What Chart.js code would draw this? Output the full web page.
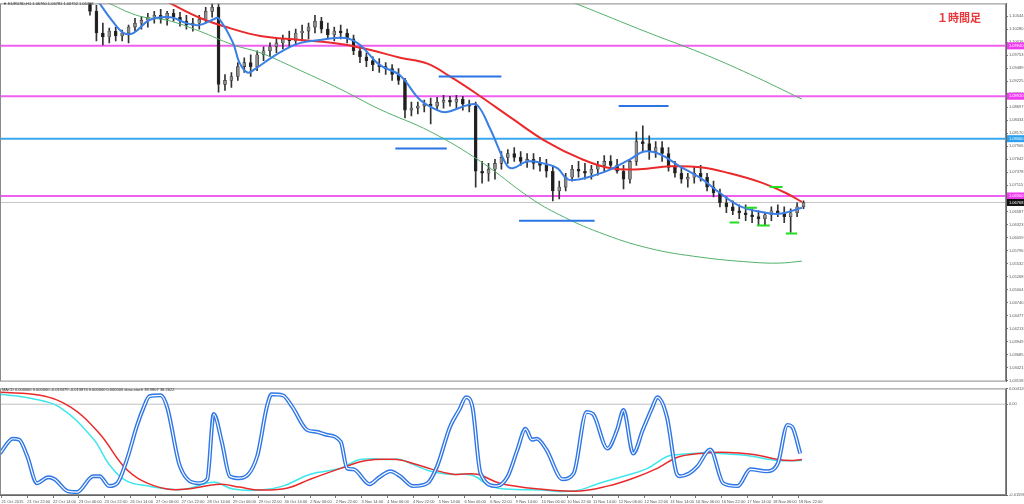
<!DOCTYPE html>
<html>
<head>
<meta charset="utf-8">
<script src="https://cdn.jsdelivr.net/npm/chart.js@4.4.1/dist/chart.umd.min.js"></script>
<style>
body{margin:0;background:#fff;width:1024px;height:504px;overflow:hidden;position:relative;font-family:"Liberation Sans",Arial,sans-serif}
canvas{position:absolute;left:0}
#main{top:0}
#sub{top:385px}
.hdr{position:absolute;white-space:nowrap;color:#333;font-size:4px;line-height:5px}
#tf{position:absolute;left:937px;top:9px;color:#e8383d;font:bold 11px "Noto Sans CJK JP",sans-serif;letter-spacing:0px}
</style>
</head>
<body>
<canvas id="main" width="1024" height="385"></canvas>
<canvas id="sub" width="1024" height="119"></canvas>
<div class="hdr" style="left:3px;top:1px">▼ EURUSD,H1 1.06760 1.06781 1.06752 1.06768</div>
<div class="hdr" style="left:2px;top:387px">MACD 0.000000 0.000000 -0.013479 -0.013874 0.000000 0.000000 slow-stoch 38.9807 38.2622</div>
<div id="tf">１時間足</div>
<script>
Chart.defaults.font.family = "Liberation Sans";

// ---- price data (H1 EURUSD, one candle every 4 bars) ----
const candleStart = 56, candleStep = 4;
const candleOpen = [
  1.1088,1.1064,1.1020,1.1012,1.1024,1.1014,1.1020,1.1032,1.1040,1.1046,
  1.1052,1.1056,1.1048,1.1060,1.1052,1.1044,1.1036,1.1040,1.1048,1.1064,
  1.1072,1.0916,1.0924,1.0932,1.0952,1.0960,1.0952,1.0976,1.0984,1.0992,
  1.1000,1.1008,1.1004,1.1020,1.1024,1.1032,1.1044,1.1028,1.1016,1.1024,
  1.1020,1.1008,1.0984,1.0972,1.0964,1.0956,1.0952,1.0948,1.0936,1.0924,
  1.0864,1.0868,1.0872,1.0876,1.0872,1.0880,1.0884,1.0880,1.0886,1.0876,
  1.0872,1.0740,1.0736,1.0744,1.0756,1.0768,1.0776,1.0768,1.0760,1.0764,
  1.0756,1.0752,1.0740,1.0700,1.0708,1.0728,1.0744,1.0740,1.0736,1.0744,
  1.0752,1.0760,1.0752,1.0740,1.0724,1.0760,1.0800,1.0796,1.0780,1.0788,
  1.0776,1.0748,1.0736,1.0724,1.0728,1.0736,1.0728,1.0708,1.0696,1.0676,
  1.0668,1.0660,1.0656,1.0652,1.0648,1.0644,1.0652,1.0660,1.0656,1.0648,
  1.0656,1.0668];
const candleHigh = [
  1.1096,1.1076,1.1040,1.1030,1.1032,1.1026,1.1036,1.1050,1.1054,1.1060,
  1.1064,1.1068,1.1064,1.1068,1.1062,1.1056,1.1050,1.1056,1.1072,1.1092,
  1.1080,1.0936,1.0940,1.0960,1.0970,1.0976,1.0984,1.0992,1.1000,1.1008,
  1.1016,1.1024,1.1028,1.1036,1.1040,1.1056,1.1052,1.1040,1.1032,1.1036,
  1.1028,1.1016,1.0992,1.0980,1.0972,1.0968,1.0960,1.0956,1.0948,1.0928,
  1.0880,1.0880,1.0884,1.0888,1.0890,1.0894,1.0892,1.0894,1.0892,1.0884,
  1.0880,1.0760,1.0756,1.0764,1.0780,1.0784,1.0788,1.0780,1.0776,1.0776,
  1.0768,1.0764,1.0752,1.0720,1.0736,1.0752,1.0760,1.0756,1.0752,1.0760,
  1.0772,1.0772,1.0764,1.0752,1.0764,1.0820,1.0832,1.0812,1.0800,1.0800,
  1.0788,1.0760,1.0748,1.0736,1.0748,1.0752,1.0736,1.0720,1.0704,1.0688,
  1.0680,1.0672,1.0672,1.0664,1.0660,1.0656,1.0668,1.0672,1.0668,1.0664,
  1.0676,1.0680];
const candleLow = [
  1.1056,1.1004,1.0996,1.1000,1.1004,1.1004,1.1000,1.1024,1.1028,1.1032,
  1.1040,1.1040,1.1036,1.1044,1.1034,1.1028,1.1024,1.1028,1.1040,1.1052,
  1.0900,1.0904,1.0910,1.0924,1.0940,1.0932,1.0944,1.0964,1.0972,1.0980,
  1.0988,1.0992,1.0996,1.1004,1.1008,1.1020,1.1020,1.1008,1.1004,1.1008,
  1.1000,1.0976,1.0960,1.0952,1.0944,1.0940,1.0936,1.0924,1.0916,1.0848,
  1.0852,1.0856,1.0860,1.0836,1.0864,1.0868,1.0872,1.0868,1.0864,1.0860,
  1.0708,1.0716,1.0720,1.0724,1.0744,1.0756,1.0760,1.0752,1.0748,1.0744,
  1.0740,1.0728,1.0680,1.0684,1.0700,1.0720,1.0728,1.0724,1.0724,1.0732,
  1.0740,1.0744,1.0736,1.0704,1.0716,1.0752,1.0780,1.0764,1.0768,1.0760,
  1.0740,1.0728,1.0716,1.0708,1.0716,1.0720,1.0700,1.0688,1.0668,1.0656,
  1.0652,1.0644,1.0640,1.0636,1.0632,1.0632,1.0640,1.0648,1.0636,1.0616,
  1.0648,1.0664];
const candleClose = [
  1.1064,1.1020,1.1012,1.1024,1.1014,1.1020,1.1032,1.1040,1.1046,1.1052,
  1.1056,1.1048,1.1060,1.1052,1.1044,1.1036,1.1040,1.1048,1.1064,1.1072,
  1.0916,1.0924,1.0932,1.0952,1.0960,1.0952,1.0976,1.0984,1.0992,1.1000,
  1.1008,1.1004,1.1020,1.1024,1.1032,1.1044,1.1028,1.1016,1.1024,1.1020,
  1.1008,1.0984,1.0972,1.0964,1.0956,1.0952,1.0948,1.0936,1.0924,1.0864,
  1.0868,1.0872,1.0876,1.0872,1.0880,1.0884,1.0880,1.0886,1.0876,1.0872,
  1.0740,1.0736,1.0744,1.0756,1.0768,1.0776,1.0768,1.0760,1.0764,1.0756,
  1.0752,1.0740,1.0700,1.0708,1.0728,1.0744,1.0740,1.0736,1.0744,1.0752,
  1.0760,1.0752,1.0740,1.0724,1.0760,1.0800,1.0796,1.0780,1.0788,1.0776,
  1.0748,1.0736,1.0724,1.0728,1.0736,1.0728,1.0708,1.0696,1.0676,1.0668,
  1.0660,1.0656,1.0652,1.0648,1.0644,1.0652,1.0660,1.0656,1.0648,1.0656,
  1.0668,1.06768];

// moving averages (bar index / price)
const redMaBar   = [87,106,125,143,162,187,212,230,249,266,280,297,319,340,361,380,398,417,436,454,473,489,499];
const redMaPrice = [1.1110,1.1080,1.1050,1.1030,1.1014,1.1006,1.0998,1.0986,1.0970,1.0958,1.0932,1.0896,1.0846,1.0800,1.0766,1.0746,1.0744,1.0750,1.0748,1.0736,1.0718,1.0696,1.0678];
const blueMaBar   = [59,62,70,77,83,93,106,116,124,133,136,145,149,154,159,168,177,187,199,215,224,236,249,261,272,278,291,297,305,315,319,328,338,347,353,361,370,380,392,401,411,423,436,448,460,473,485,499];
const blueMaPrice = [1.1096,1.1080,1.1044,1.1020,1.1020,1.1046,1.1052,1.1040,1.1036,1.1048,1.1050,1.1000,1.0960,1.0940,1.0948,1.0968,1.0986,1.1000,1.1006,1.1010,1.0996,1.0956,1.0934,1.0886,1.0864,1.0860,1.0874,1.0874,1.0826,1.0754,1.0746,1.0760,1.0756,1.0746,1.0724,1.0724,1.0732,1.0744,1.0764,1.0780,1.0774,1.0750,1.0726,1.0696,1.0670,1.0658,1.0654,1.0666];
const greenMaBar   = [59,68,87,104,124,145,162,187,212,236,268,299,330,348,373,404,436,467,485,499];
const greenMaPrice = [1.1096,1.1080,1.1054,1.1046,1.1024,1.0996,1.0980,1.0944,1.0906,1.0866,1.0820,1.0760,1.0686,1.0652,1.0616,1.0584,1.0566,1.0556,1.0554,1.0558];
const slowMaBar   = [348,358,404,436,467,499];
const slowMaPrice = [1.1092,1.1080,1.1020,1.0980,1.0936,1.0886];

// horizontal lines and short levels
const magentaLevels = [1.0994, 1.0892, 1.0690];
const cyanLevel = 1.0806;
const bidPrice = 1.06768;
const blueSegFrom  = [273, 246, 385, 323];
const blueSegTo    = [312, 278, 416, 370];
const blueSegPrice = [1.0932, 1.0786, 1.0872, 1.0640];
const greenDashFrom  = [479, 464, 454, 471, 489];
const greenDashTo    = [487, 471, 460, 479, 496];
const greenDashPrice = [1.0708, 1.0666, 1.0636, 1.0630, 1.0614];

const priceTicks = [1.10544,1.10280,1.10016,1.09753,1.09489,1.09225,1.08961,1.08697,1.08434,1.08170,1.07906,1.07642,1.07378,1.07115,1.06851,1.06587,1.06323,1.06059,1.05796,1.05532,1.05268,1.05004,1.04740,1.04477,1.04213,1.03949,1.03685,1.03421,1.03158];

// ---- oscillator data ----
const stochBar = [0,8,12,17,23,30,34,42,48,58,62,68,73,79,85,89,93,100,104,112,124,129,133,138,143,149,160,166,169,176,182,191,197,203,212,216,220,230,236,243,249,257,266,272,280,286,290,294,299,309,316,322,327,331,334,340,350,357,365,369,378,384,388,394,400,406,409,415,421,423,429,434,442,450,459,467,477,484,490,493,498];
const stochValue = [39,54,53,36,9,15,13,1,0,16,16,6,9,33,66,84,97,98,86,26,9,13,79,51,16,14,36,86,99,98,86,63,61,58,51,24,23,8,15,21,16,6,9,26,66,84,96,86,19,6,16,43,64,53,54,43,13,19,81,79,44,63,83,39,63,86,96,76,19,16,19,26,43,9,6,23,21,29,68,66,39];
const macdBar = [0,19,37,58,68,79,93,104,116,133,145,162,176,193,212,224,243,249,268,280,294,305,315,336,357,373,388,403,415,423,442,448,465,484,499];
const macdValue = [0.00174,0.00104,-0.00052,-0.00607,-0.01059,-0.01354,-0.01441,-0.01493,-0.01493,-0.01371,-0.01493,-0.01510,-0.01441,-0.01232,-0.01128,-0.00972,-0.00972,-0.00972,-0.01180,-0.01232,-0.01250,-0.01441,-0.01493,-0.01510,-0.01527,-0.01389,-0.01267,-0.01128,-0.00920,-0.00885,-0.00851,-0.00868,-0.00903,-0.00989,-0.00989];
const signalBar = [0,25,44,62,77,89,104,116,137,149,162,179,193,212,228,247,253,269,282,297,311,336,361,378,394,409,423,444,454,469,484,492,499];
const signalValue = [0.00208,0.00156,-0.00052,-0.00521,-0.01094,-0.01354,-0.01493,-0.01493,-0.01406,-0.01458,-0.01510,-0.01475,-0.01319,-0.01128,-0.00989,-0.00972,-0.01007,-0.01146,-0.01232,-0.01232,-0.01389,-0.01493,-0.01527,-0.01441,-0.01302,-0.01128,-0.00920,-0.00851,-0.00851,-0.00885,-0.00972,-0.00989,-0.00972];
const macdTickValue = [0.002777, 0, -0.015968];
const macdTickLabel = ['0.004126', '0.00', '-0.015968'];

const timeLabels = ['21 Oct 2015','21 Oct 22:00','22 Oct 14:00','23 Oct 06:00','23 Oct 22:00','26 Oct 14:00','27 Oct 06:00','27 Oct 22:00','28 Oct 14:00','29 Oct 06:00','29 Oct 22:00','30 Oct 14:00','2 Nov 06:00','2 Nov 22:00','3 Nov 14:00','4 Nov 06:00','4 Nov 22:00','5 Nov 14:00','6 Nov 06:00','6 Nov 22:00','9 Nov 14:00','10 Nov 06:00','10 Nov 22:00','11 Nov 14:00','12 Nov 06:00','12 Nov 22:00','13 Nov 14:00','16 Nov 06:00','16 Nov 22:00','17 Nov 14:00','18 Nov 06:00','18 Nov 22:00'];
const timeTickBar = timeLabels.map((_, i) => 1 + 16 * i);

const X_MAX = 626;

function pts(xs, ys) { return xs.map((x, i) => ({x: x, y: ys[i]})); }
function lineSet(data, color, width, extra) {
  return Object.assign({type: 'line', data: data, borderColor: color, borderWidth: width,
    pointRadius: 0, tension: 0.4, fill: false}, extra || {});
}
function hLine(p, color, width, order) {
  return lineSet([{x: 0, y: p}, {x: X_MAX, y: p}], color, width, {tension: 0, order: order});
}

// frame around the plot area
const framePlugin = {
  id: 'frame',
  afterDraw(chart) {
    const a = chart.chartArea, ctx = chart.ctx;
    ctx.save();
    ctx.strokeStyle = '#8a8a8a';
    ctx.lineWidth = 1;
    ctx.strokeRect(a.left + 0.5, a.top + 0.5, a.right - a.left - 1, a.bottom - a.top - 1);
    ctx.restore();
  }
};

// coloured price boxes for the horizontal lines
const priceBoxes = [[magentaLevels[0], '#f03cf0'], [magentaLevels[1], '#f03cf0'], [cyanLevel, '#2aa0ee'], [magentaLevels[2], '#f03cf0'], [bidPrice, '#111']];
const boxPlugin = {
  id: 'boxes',
  afterDraw(chart) {
    const ctx = chart.ctx, y = chart.scales.y, a = chart.chartArea;
    ctx.save();
    ctx.font = '4px "Liberation Sans"';
    ctx.textBaseline = 'middle';
    priceBoxes.forEach(b => {
      const py = y.getPixelForValue(b[0]);
      ctx.fillStyle = b[1];
      ctx.fillRect(a.right + 1, py - 3.5, 17, 7);
      ctx.fillStyle = '#fff';
      ctx.fillText(b[0].toFixed(5), a.right + 3, py);
    });
    ctx.restore();
  }
};

const wickData = candleOpen.map((_, i) => ({x: candleStart + candleStep * i, y: [candleLow[i], candleHigh[i]]}));
const bodyData = candleOpen.map((_, i) => ({x: candleStart + candleStep * i, y: [candleOpen[i], candleClose[i]]}));
const bodyFill = candleOpen.map((o, i) => candleClose[i] >= o ? '#8c8c8c' : '#1e1e1e');

const mainSets = [
  hLine(bidPrice, '#c4c4c4', 1, 20),
  hLine(magentaLevels[0], '#f060f0', 2, 19),
  hLine(magentaLevels[1], '#f060f0', 2, 19),
  hLine(magentaLevels[2], '#f060f0', 2, 19),
  hLine(cyanLevel, '#3aa8ee', 2, 19),
  {type: 'bar', data: wickData, backgroundColor: '#333', barThickness: 1, grouped: false, order: 12},
  {type: 'bar', data: bodyData, backgroundColor: bodyFill, borderColor: '#333', borderWidth: 0.6,
    borderSkipped: false, barThickness: 3, minBarLength: 1, grouped: false, order: 11},
  lineSet(pts(greenMaBar, greenMaPrice), '#52b06a', 1, {order: 6}),
  lineSet(pts(slowMaBar, slowMaPrice), '#52b06a', 1, {order: 6}),
  lineSet(pts(redMaBar, redMaPrice), '#ea2a2a', 2, {order: 5}),
  lineSet(pts(blueMaBar, blueMaPrice), '#3a7fe6', 2, {order: 4})
];
blueSegPrice.forEach((p, i) => mainSets.push(lineSet([{x: blueSegFrom[i], y: p}, {x: blueSegTo[i], y: p}], '#2a74e4', 2, {tension: 0, order: 3})));
greenDashPrice.forEach((p, i) => mainSets.push(lineSet([{x: greenDashFrom[i], y: p}, {x: greenDashTo[i], y: p}], '#22dd22', 2, {tension: 0, order: 3})));

const axisFont = {size: 4, family: 'Liberation Sans'};

new Chart(document.getElementById('main'), {
  type: 'bar',
  data: {datasets: mainSets},
  options: {
    responsive: false, animation: false, devicePixelRatio: 1,
    layout: {padding: {top: 0, bottom: 2, left: 0, right: 0}},
    plugins: {legend: {display: false}, tooltip: {enabled: false}},
    scales: {
      x: {type: 'linear', min: 0, max: X_MAX, display: false, offset: false},
      y: {
        position: 'right', min: 1.0314, max: 1.1080,
        afterFit: s => { s.width = 18; },
        afterBuildTicks: s => { s.ticks = priceTicks.map(v => ({value: v})); },
        ticks: {autoSkip: false, font: axisFont, color: '#555', padding: 1, callback: v => v.toFixed(5)},
        grid: {drawOnChartArea: false, tickLength: 2, color: '#777'},
        border: {color: '#666'}
      }
    }
  },
  plugins: [framePlugin, boxPlugin]
});

new Chart(document.getElementById('sub'), {
  type: 'line',
  data: {datasets: [
    lineSet([{x: 0, y: 0}, {x: X_MAX, y: 0}], '#c0c0c0', 1, {tension: 0, order: 9}),
    lineSet(pts(macdBar, macdValue), '#3ee6ee', 1.5, {order: 4}),
    lineSet(pts(signalBar, signalValue), '#ea2a2a', 1.5, {order: 3}),
    lineSet(pts(stochBar, stochValue), '#2f76e6', 4, {yAxisID: 'y2', cubicInterpolationMode: 'monotone', order: 1}),
    lineSet(pts(stochBar, stochValue), '#ffffff', 1.2, {yAxisID: 'y2', cubicInterpolationMode: 'monotone', order: 0})
  ]},
  options: {
    responsive: false, animation: false, devicePixelRatio: 1,
    layout: {padding: {top: 1, bottom: 0, left: 0, right: 0}},
    plugins: {legend: {display: false}, tooltip: {enabled: false}},
    scales: {
      x: {
        type: 'linear', min: 0, max: X_MAX,
        afterBuildTicks: s => { s.ticks = timeTickBar.map(v => ({value: v})); },
        afterFit: s => { s.height = 9; },
        ticks: {autoSkip: false, maxRotation: 0, align: 'start', font: axisFont, color: '#555', padding: 1,
          callback: (v, i) => timeLabels[i]},
        grid: {drawOnChartArea: false, tickLength: 3, color: '#777'},
        border: {color: '#666'}
      },
      y: {
        position: 'right', min: -0.015968, max: 0.002777,
        afterFit: s => { s.width = 18; },
        afterBuildTicks: s => { s.ticks = macdTickValue.map(v => ({value: v})); },
        ticks: {autoSkip: false, font: axisFont, color: '#555', padding: 1, callback: (v, i) => macdTickLabel[i]},
        grid: {drawOnChartArea: false, tickLength: 2, color: '#777'},
        border: {color: '#666'}
      },
      y2: {display: false, min: -3, max: 105}
    }
  },
  plugins: [framePlugin]
});
</script>
</body>
</html>
